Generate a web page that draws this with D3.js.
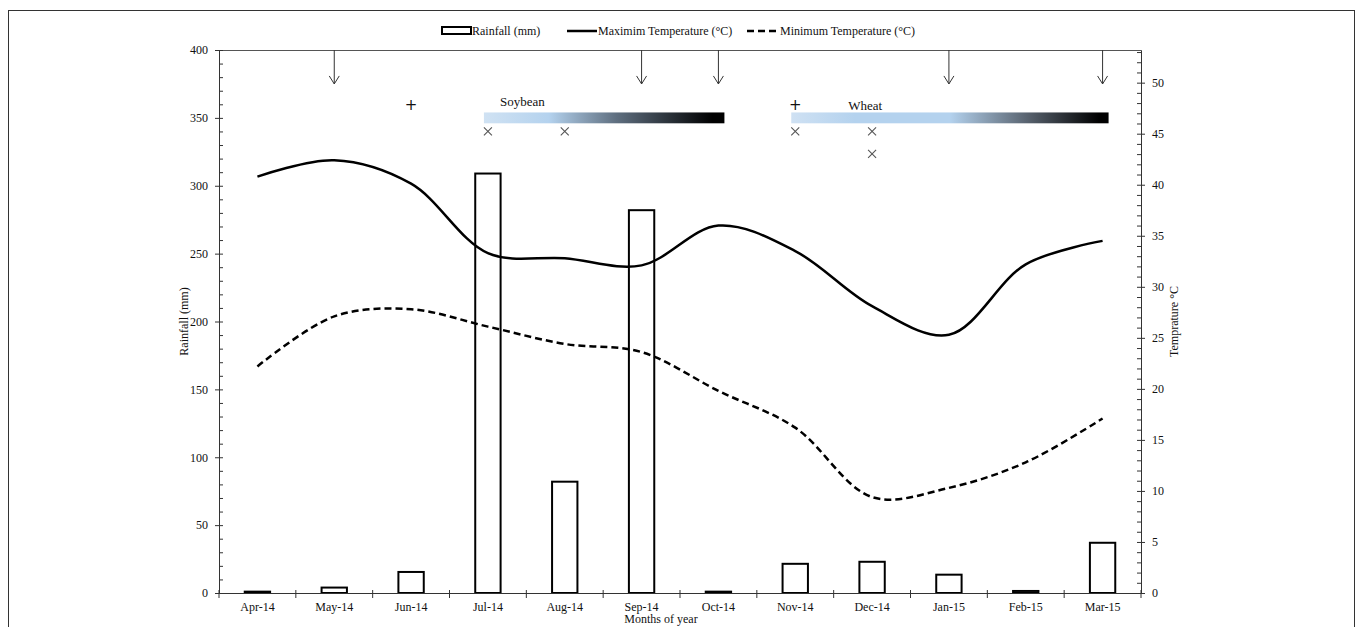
<!DOCTYPE html>
<html>
<head>
<meta charset="utf-8">
<script src="https://cdn.jsdelivr.net/npm/d3@7"></script>
<style>
  body { margin: 0; background: #fff; }
  text { font-family: "Liberation Serif", "Times New Roman", serif; fill: #111; }
</style>
</head>
<body>
<script>
// months, rainfall (mm) and temperatures (°C)
var months = ["Apr-14","May-14","Jun-14","Jul-14","Aug-14","Sep-14","Oct-14","Nov-14","Dec-14","Jan-15","Feb-15","Mar-15"];
var rainfall = [1, 4, 15.5, 309, 82, 282, 1, 21.5, 23, 13.5, 1.5, 37];
var maxTemp = [40.8, 42.4, 40.1, 33.3, 32.8, 32.1, 36.0, 33.5, 28.1, 25.3, 32.2, 34.5];
var minTemp = [22.2, 27.1, 27.8, 26.1, 24.4, 23.6, 19.8, 16.2, 9.4, 10.3, 12.8, 17.1];
var rainTicks = [0, 50, 100, 150, 200, 250, 300, 350, 400];
var tempTicks = [0, 5, 10, 15, 20, 25, 30, 35, 40, 45, 50];
var legendLabels = ["Rainfall (mm)", "Maximim Temperature (°C)", "Minimum Temperature (°C)"];

// crop calendar marks
var arrowMonths = ["May-14","Sep-14","Oct-14","Jan-15","Mar-15"];
var plusMonths = ["Jun-14","Nov-14"];
var crossMarks = [["Jul-14",0],["Aug-14",0],["Nov-14",0],["Dec-14",0],["Dec-14",1]];
var crops = [["Soybean","Jul-14","Oct-14"],["Wheat","Nov-14","Mar-15"]];

var w = 1358, h = 627;
var padL = 219, padR = 1141, padT = 50, padB = 593;

var svg = d3.select("body").append("svg")
  .attr("width", w).attr("height", h);

svg.append("rect").attr("width", w).attr("height", h).attr("fill", "#fff");
// outer frame
svg.append("rect")
  .attr("x", 8.5).attr("y", 10.5).attr("width", 1346).attr("height", 700)
  .attr("fill", "none").attr("stroke", "#333").attr("stroke-width", 1);

/*** scales ***/
var x = d3.scaleBand().domain(months).range([padL, padR]);
var yL = d3.scaleLinear().domain([0, 400]).range([padB, padT]);
var yR = d3.scaleLinear().domain([0, 53.2]).range([padB, padT]);
var cx = function(m) { return x(m) + x.bandwidth() / 2; };

// plot top border
svg.append("line")
  .attr("x1", padL).attr("x2", padR).attr("y1", padT + 0.5).attr("y2", padT + 0.5)
  .attr("stroke", "#555");

/*** bars ***/
var bw = x.bandwidth() * 0.33;
svg.selectAll(".bar").data(rainfall).enter().append("rect")
  .attr("class", "bar")
  .attr("x", function(d, i) { return cx(months[i]) - bw / 2; })
  .attr("y", function(d) { return yL(d); })
  .attr("width", bw)
  .attr("height", function(d) { return padB - yL(d); })
  .attr("fill", "#fff").attr("stroke", "#000").attr("stroke-width", 2);

/*** axes ***/
var leftMinor = d3.range(0, 401, 10);
svg.append("g").attr("transform", "translate(" + padL + ",0)")
  .call(d3.axisLeft(yL).tickValues(leftMinor).tickSize(-4).tickFormat("").tickSizeOuter(0));
svg.append("g").attr("class", "yl").attr("transform", "translate(" + padL + ",0)")
  .call(d3.axisLeft(yL).tickValues(rainTicks).tickSize(4).tickPadding(7).tickSizeOuter(0));

var rightMinor = d3.range(0, 54, 1);
svg.append("g").attr("transform", "translate(" + padR + ",0)")
  .call(d3.axisRight(yR).tickValues(rightMinor).tickSize(-4).tickFormat("").tickSizeOuter(0));
svg.append("g").attr("class", "yr").attr("transform", "translate(" + padR + ",0)")
  .call(d3.axisRight(yR).tickValues(tempTicks).tickSize(4).tickPadding(7).tickSizeOuter(0));

svg.append("g").attr("class", "xb").attr("transform", "translate(0," + padB + ")")
  .call(d3.axisBottom(x).tickSize(0).tickPadding(9).tickSizeOuter(0));
// category boundary ticks
svg.selectAll(".xtick").data(months.concat(["end"])).enter().append("line")
  .attr("x1", function(d, i) { return padL + i * x.step(); })
  .attr("x2", function(d, i) { return padL + i * x.step(); })
  .attr("y1", padB - 3).attr("y2", padB + 5)
  .attr("stroke", "#333");

svg.selectAll(".domain").attr("stroke", "#333");
svg.selectAll(".tick line").attr("stroke", "#333");
svg.selectAll(".tick text").style("font-family", "Liberation Serif").style("font-size", "12px").attr("fill", "#111");

/*** temperature lines ***/
var line = d3.line()
  .x(function(d, i) { return cx(months[i]); })
  .y(function(d) { return yR(d); })
  .curve(d3.curveCatmullRom.alpha(0.5));
svg.append("path").datum(maxTemp).attr("d", line)
  .attr("fill", "none").attr("stroke", "#000").attr("stroke-width", 2.5);
svg.append("path").datum(minTemp).attr("d", line)
  .attr("fill", "none").attr("stroke", "#000").attr("stroke-width", 2.5)
  .attr("stroke-dasharray", "7,4");

/*** crop calendar annotations ***/
svg.selectAll(".arrow").data(arrowMonths).enter().append("g").each(function(m) {
  var g = d3.select(this), ax = cx(m), ay = yL(375);
  g.append("line").attr("x1", ax).attr("x2", ax).attr("y1", padT).attr("y2", ay).attr("stroke", "#333");
  g.append("path").attr("d", "M" + (ax - 5) + "," + (ay - 8) + "L" + ax + "," + ay + "L" + (ax + 5) + "," + (ay - 8))
    .attr("fill", "none").attr("stroke", "#333");
});

svg.selectAll(".plus").data(plusMonths).enter().append("text")
  .attr("x", function(m) { return cx(m); }).attr("y", yL(360) + 6)
  .attr("text-anchor", "middle").style("font-size", "15px").style("font-family", "DejaVu Sans")
  .text("+");

svg.selectAll(".cross").data(crossMarks).enter().append("path")
  .attr("d", function(d) {
    var px = cx(d[0]), py = yL(340 - d[1] * 16.5), s = 4;
    return "M" + (px - s) + "," + (py - s) + "L" + (px + s) + "," + (py + s) +
           "M" + (px - s) + "," + (py + s) + "L" + (px + s) + "," + (py - s);
  })
  .attr("stroke", "#555").attr("stroke-width", 1.1).attr("fill", "none");

var defs = svg.append("defs");
var gradStops = {
  Soybean: [[0, "#d0e2f3"], [0.27, "#b4d2ee"], [0.55, "#5f6f80"], [0.95, "#000"]],
  Wheat: [[0, "#cfe1f3"], [0.2, "#b4d2ee"], [0.5, "#b4d2ee"], [0.75, "#56606c"], [0.97, "#000"]]
};
var labelOffset = { Soybean: [16, -6], Wheat: [57, -2] };
crops.forEach(function(c) {
  var id = "grad" + c[0];
  var gr = defs.append("linearGradient").attr("id", id);
  gradStops[c[0]].forEach(function(s) {
    gr.append("stop").attr("offset", s[0]).attr("stop-color", s[1]);
  });
  var x0 = cx(c[1]) - 4, x1 = cx(c[2]) + 6;
  svg.append("rect")
    .attr("x", x0).attr("y", yL(354)).attr("width", x1 - x0).attr("height", yL(346) - yL(354))
    .attr("fill", "url(#" + id + ")");
  svg.append("text")
    .attr("x", x0 + labelOffset[c[0]][0]).attr("y", yL(354) + labelOffset[c[0]][1])
    .style("font-size", "13px").text(c[0]);
});

/*** axis titles ***/
svg.append("text")
  .attr("transform", "translate(188," + ((padT + padB) / 2) + ") rotate(-90)")
  .attr("text-anchor", "middle").style("font-size", "12px").text("Rainfall (mm)");
svg.append("text")
  .attr("transform", "translate(1178," + ((padT + padB) / 2) + ") rotate(-90)")
  .attr("text-anchor", "middle").style("font-size", "12px").text("Temprature °C");
svg.append("text")
  .attr("x", 661).attr("y", 623)
  .attr("text-anchor", "middle").style("font-size", "12px").text("Months of year");

/*** legend ***/
var lg = svg.append("g");
lg.append("rect").attr("x", 442).attr("y", 27).attr("width", 29).attr("height", 7)
  .attr("fill", "#fff").attr("stroke", "#000").attr("stroke-width", 2);
lg.append("text").attr("x", 472).attr("y", 35).style("font-size", "12px").text(legendLabels[0]);
lg.append("line").attr("x1", 567).attr("x2", 597).attr("y1", 31).attr("y2", 31)
  .attr("stroke", "#000").attr("stroke-width", 2.5);
lg.append("text").attr("x", 598).attr("y", 35).style("font-size", "12px").text(legendLabels[1]);
lg.append("line").attr("x1", 747).attr("x2", 776).attr("y1", 31).attr("y2", 31)
  .attr("stroke", "#000").attr("stroke-width", 2.5).attr("stroke-dasharray", "7,4");
lg.append("text").attr("x", 780).attr("y", 35).style("font-size", "12px").text(legendLabels[2]);
</script>
</body>
</html>
